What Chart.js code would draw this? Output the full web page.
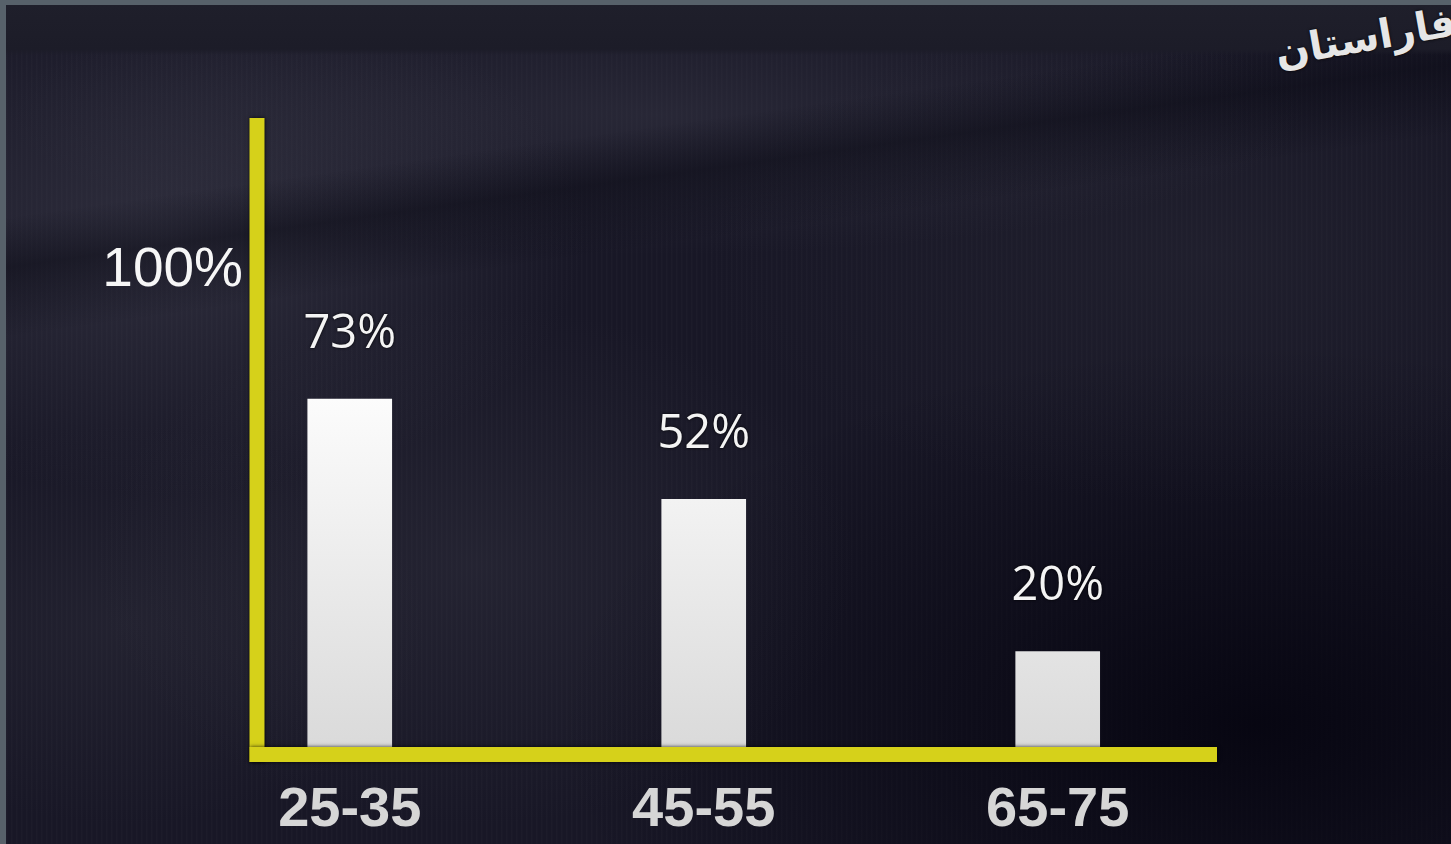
<!DOCTYPE html>
<html>
<head>
<meta charset="utf-8">
<script src="https://cdn.jsdelivr.net/npm/chart.js@4.4.1/dist/chart.umd.min.js"></script>
<style>
  html, body { margin: 0; padding: 0; width: 1451px; height: 844px; overflow: hidden; background: #57616a; }
  #board {
    position: absolute; left: 6px; top: 5px; right: 0; bottom: 0;
    background:
      linear-gradient(to bottom, #1f1f2b 0px, #1c1c28 44px, rgba(0,0,0,0) 50px),
      linear-gradient(172deg, rgba(0,0,0,0) 0px, rgba(0,0,0,0) 210px, rgba(8,8,18,0.45) 260px, rgba(0,0,0,0) 330px),
      radial-gradient(ellipse 420px 260px at 160px 230px, rgba(80,80,95,0.40), rgba(0,0,0,0)),
      radial-gradient(ellipse 650px 140px at 650px 110px, rgba(70,70,85,0.35), rgba(0,0,0,0)),
      radial-gradient(ellipse 380px 260px at 470px 560px, rgba(65,65,78,0.30), rgba(0,0,0,0)),
      radial-gradient(ellipse 300px 200px at 120px 620px, rgba(60,60,72,0.30), rgba(0,0,0,0)),
      radial-gradient(ellipse 500px 250px at 1200px 250px, rgba(50,50,62,0.30), rgba(0,0,0,0)),
      radial-gradient(ellipse 700px 380px at 1250px 720px, rgba(4,3,14,0.85), rgba(0,0,0,0)),
      repeating-linear-gradient(90deg, rgba(255,255,255,0.018) 0px, rgba(255,255,255,0.018) 1px, rgba(0,0,0,0) 2px, rgba(0,0,0,0) 5px),
      #181726;
  }
  #logo {
    position: absolute; right: -6px; top: 14px;
    font-family: "DejaVu Sans", sans-serif; font-weight: bold; font-size: 40px;
    color: #e6e6e6; transform: rotate(-10deg); direction: rtl;
    text-shadow: 0 0 3px #000;
  }
  #c { position: absolute; left: 0; top: 0; }
</style>
</head>
<body>
<div id="board"></div>
<div id="logo">فاراستان</div>
<canvas id="c" width="1451" height="844"></canvas>
<script>
const categories = ["25-35", "45-55", "65-75"];
const percentValues = [73, 52, 20];
const yTickValues = [100];

const axisYellow = '#d6d11a';

const axesPlugin = {
  id: 'axesLines',
  afterDatasetsDraw(chart) {
    const {ctx, chartArea} = chart;
    const w = 15;
    ctx.save();
    ctx.shadowColor = 'rgba(0,0,0,0.8)';
    ctx.shadowBlur = 4;
    ctx.fillStyle = axisYellow;
    ctx.fillRect(chartArea.left - w / 2, chartArea.top, w, chartArea.bottom - chartArea.top + w);
    ctx.fillRect(chartArea.left - w / 2, chartArea.bottom, chartArea.right - chartArea.left + w / 2, w);
    ctx.restore();
  }
};

const valueLabels = {
  id: 'valueLabels',
  afterDatasetsDraw(chart) {
    const {ctx} = chart;
    const meta = chart.getDatasetMeta(0);
    ctx.save();
    ctx.font = '47px "Open Sans", sans-serif';
    ctx.fillStyle = '#f4f4f4';
    ctx.textAlign = 'center';
    ctx.textBaseline = 'middle';
    ctx.shadowColor = 'rgba(0,0,0,0.9)';
    ctx.shadowBlur = 3;
    meta.data.forEach((bar, i) => {
      ctx.fillText(percentValues[i] + '%', bar.x, bar.y - 65);
    });
    ctx.restore();
  }
};

new Chart(document.getElementById('c'), {
  type: 'bar',
  data: {
    datasets: [{
      data: categories.map((c, i) => ({x: i, y: percentValues[i]})),
      barThickness: 84,
      borderWidth: 0,
      backgroundColor(ctx) {
        const area = ctx.chart.chartArea;
        if (!area) return '#f2f2f2';
        const g = ctx.chart.ctx.createLinearGradient(0, area.top + 250, 0, area.bottom);
        g.addColorStop(0, '#ffffff');
        g.addColorStop(1, '#dadada');
        return g;
      }
    }]
  },
  options: {
    responsive: false,
    animation: false,
    devicePixelRatio: 1,
    layout: { padding: { left: 0, top: 118, right: 234, bottom: 0 } },
    plugins: { legend: { display: false }, tooltip: { enabled: false } },
    scales: {
      x: {
        type: 'linear',
        offset: false,
        bounds: 'ticks',
        min: -0.262,
        max: 2.45,
        afterBuildTicks(scale) { scale.ticks = categories.map((c, i) => ({value: i})); },
        afterFit(scale) { scale.height = 97; },
        grid: { display: false, drawTicks: false },
        border: { display: false },
        ticks: {
          autoSkip: false,
          maxRotation: 0,
          padding: 30,
          color: '#d6d6d6',
          font: { family: '"Liberation Sans", Arial, sans-serif', size: 56, weight: 'bold' },
          callback: (v) => categories[v]
        }
      },
      y: {
        min: 0,
        max: 132,
        afterBuildTicks(scale) { scale.ticks = yTickValues.map(v => ({value: v})); },
        afterFit(scale) { scale.width = 257; },
        grid: { display: false, drawTicks: false },
        border: { display: false },
        ticks: {
          padding: 14,
          color: '#f6f6f6',
          font: { family: '"Liberation Sans", Arial, sans-serif', size: 55 },
          callback: (v) => v + '%'
        }
      }
    }
  },
  plugins: [axesPlugin, valueLabels]
});
</script>
</body>
</html>
